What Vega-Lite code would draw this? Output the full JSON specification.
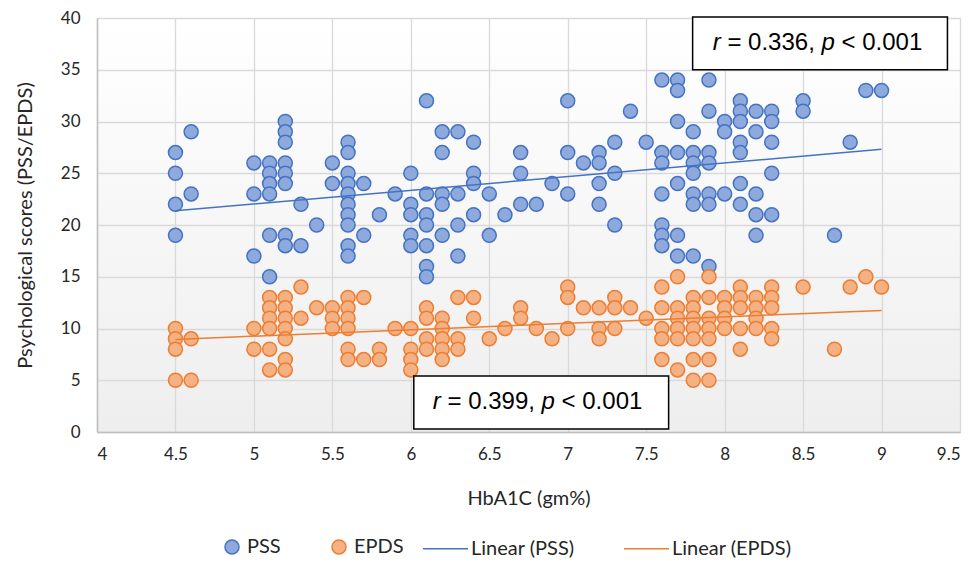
{
  "$schema": "https://vega.github.io/schema/vega-lite/v6.json",
  "width": 863,
  "height": 414,
  "autosize": "none",
  "padding": {"left": 97, "top": 18, "right": 15, "bottom": 133},
  "background": "white",
  "config": {
    "view": {"stroke": null, "fill": {"gradient": "linear", "x1": 0, "y1": 0, "x2": 0, "y2": 1, "stops": [{"offset": 0, "color": "#ffffff"}, {"offset": 1, "color": "#eeeeee"}]}},
    "axis": {"labelFont": "Lato", "labelFontSize": 17, "labelColor": "#262626", "titleFont": "Lato", "titleFontSize": 20, "titleFontWeight": "normal", "titleColor": "#262626", "gridColor": "#d9d9d9", "gridWidth": 1.3, "domainColor": "#bfbfbf", "domainWidth": 1.5, "ticks": false},
    "legend": {"labelFont": "Lato", "labelFontSize": 20, "labelColor": "#262626", "title": null}
  },
  "datasets": {
    "scores": [
      {"x":4.5,"y":27,"s":"PSS"},{"x":4.5,"y":25,"s":"PSS"},{"x":4.5,"y":22,"s":"PSS"},{"x":4.5,"y":19,"s":"PSS"},
      {"x":4.6,"y":29,"s":"PSS"},{"x":4.6,"y":23,"s":"PSS"},
      {"x":5.0,"y":26,"s":"PSS"},{"x":5.0,"y":23,"s":"PSS"},{"x":5.0,"y":17,"s":"PSS"},
      {"x":5.1,"y":26,"s":"PSS"},{"x":5.1,"y":25,"s":"PSS"},{"x":5.1,"y":24,"s":"PSS"},{"x":5.1,"y":23,"s":"PSS"},{"x":5.1,"y":19,"s":"PSS"},{"x":5.1,"y":15,"s":"PSS"},
      {"x":5.2,"y":30,"s":"PSS"},{"x":5.2,"y":29,"s":"PSS"},{"x":5.2,"y":28,"s":"PSS"},{"x":5.2,"y":26,"s":"PSS"},{"x":5.2,"y":25,"s":"PSS"},{"x":5.2,"y":24,"s":"PSS"},{"x":5.2,"y":19,"s":"PSS"},{"x":5.2,"y":18,"s":"PSS"},
      {"x":5.3,"y":22,"s":"PSS"},{"x":5.3,"y":18,"s":"PSS"},
      {"x":5.4,"y":20,"s":"PSS"},
      {"x":5.5,"y":26,"s":"PSS"},{"x":5.5,"y":24,"s":"PSS"},
      {"x":5.6,"y":28,"s":"PSS"},{"x":5.6,"y":27,"s":"PSS"},{"x":5.6,"y":25,"s":"PSS"},{"x":5.6,"y":24,"s":"PSS"},{"x":5.6,"y":23,"s":"PSS"},{"x":5.6,"y":22,"s":"PSS"},{"x":5.6,"y":21,"s":"PSS"},{"x":5.6,"y":20,"s":"PSS"},{"x":5.6,"y":18,"s":"PSS"},{"x":5.6,"y":17,"s":"PSS"},
      {"x":5.7,"y":24,"s":"PSS"},{"x":5.7,"y":19,"s":"PSS"},
      {"x":5.8,"y":21,"s":"PSS"},
      {"x":5.9,"y":23,"s":"PSS"},
      {"x":6.0,"y":25,"s":"PSS"},{"x":6.0,"y":22,"s":"PSS"},{"x":6.0,"y":21,"s":"PSS"},{"x":6.0,"y":19,"s":"PSS"},{"x":6.0,"y":18,"s":"PSS"},
      {"x":6.1,"y":32,"s":"PSS"},{"x":6.1,"y":23,"s":"PSS"},{"x":6.1,"y":21,"s":"PSS"},{"x":6.1,"y":20,"s":"PSS"},{"x":6.1,"y":18,"s":"PSS"},{"x":6.1,"y":16,"s":"PSS"},{"x":6.1,"y":15,"s":"PSS"},
      {"x":6.2,"y":29,"s":"PSS"},{"x":6.2,"y":27,"s":"PSS"},{"x":6.2,"y":23,"s":"PSS"},{"x":6.2,"y":22,"s":"PSS"},{"x":6.2,"y":19,"s":"PSS"},
      {"x":6.3,"y":29,"s":"PSS"},{"x":6.3,"y":23,"s":"PSS"},{"x":6.3,"y":20,"s":"PSS"},{"x":6.3,"y":17,"s":"PSS"},
      {"x":6.4,"y":28,"s":"PSS"},{"x":6.4,"y":25,"s":"PSS"},{"x":6.4,"y":24,"s":"PSS"},{"x":6.4,"y":21,"s":"PSS"},
      {"x":6.5,"y":23,"s":"PSS"},{"x":6.5,"y":19,"s":"PSS"},
      {"x":6.6,"y":21,"s":"PSS"},
      {"x":6.7,"y":27,"s":"PSS"},{"x":6.7,"y":25,"s":"PSS"},{"x":6.7,"y":22,"s":"PSS"},
      {"x":6.8,"y":22,"s":"PSS"},
      {"x":6.9,"y":24,"s":"PSS"},
      {"x":7.0,"y":32,"s":"PSS"},{"x":7.0,"y":27,"s":"PSS"},{"x":7.0,"y":23,"s":"PSS"},
      {"x":7.1,"y":26,"s":"PSS"},
      {"x":7.2,"y":27,"s":"PSS"},{"x":7.2,"y":26,"s":"PSS"},{"x":7.2,"y":24,"s":"PSS"},{"x":7.2,"y":22,"s":"PSS"},
      {"x":7.3,"y":28,"s":"PSS"},{"x":7.3,"y":25,"s":"PSS"},{"x":7.3,"y":20,"s":"PSS"},
      {"x":7.4,"y":31,"s":"PSS"},
      {"x":7.5,"y":28,"s":"PSS"},
      {"x":7.6,"y":34,"s":"PSS"},{"x":7.6,"y":27,"s":"PSS"},{"x":7.6,"y":26,"s":"PSS"},{"x":7.6,"y":23,"s":"PSS"},{"x":7.6,"y":20,"s":"PSS"},{"x":7.6,"y":19,"s":"PSS"},{"x":7.6,"y":18,"s":"PSS"},
      {"x":7.7,"y":34,"s":"PSS"},{"x":7.7,"y":33,"s":"PSS"},{"x":7.7,"y":30,"s":"PSS"},{"x":7.7,"y":27,"s":"PSS"},{"x":7.7,"y":24,"s":"PSS"},{"x":7.7,"y":19,"s":"PSS"},{"x":7.7,"y":17,"s":"PSS"},
      {"x":7.8,"y":29,"s":"PSS"},{"x":7.8,"y":27,"s":"PSS"},{"x":7.8,"y":26,"s":"PSS"},{"x":7.8,"y":25,"s":"PSS"},{"x":7.8,"y":23,"s":"PSS"},{"x":7.8,"y":22,"s":"PSS"},{"x":7.8,"y":17,"s":"PSS"},
      {"x":7.9,"y":34,"s":"PSS"},{"x":7.9,"y":31,"s":"PSS"},{"x":7.9,"y":27,"s":"PSS"},{"x":7.9,"y":26,"s":"PSS"},{"x":7.9,"y":23,"s":"PSS"},{"x":7.9,"y":22,"s":"PSS"},{"x":7.9,"y":16,"s":"PSS"},
      {"x":8.0,"y":30,"s":"PSS"},{"x":8.0,"y":29,"s":"PSS"},{"x":8.0,"y":23,"s":"PSS"},
      {"x":8.1,"y":32,"s":"PSS"},{"x":8.1,"y":31,"s":"PSS"},{"x":8.1,"y":30,"s":"PSS"},{"x":8.1,"y":28,"s":"PSS"},{"x":8.1,"y":27,"s":"PSS"},{"x":8.1,"y":24,"s":"PSS"},{"x":8.1,"y":22,"s":"PSS"},
      {"x":8.2,"y":31,"s":"PSS"},{"x":8.2,"y":29,"s":"PSS"},{"x":8.2,"y":23,"s":"PSS"},{"x":8.2,"y":21,"s":"PSS"},{"x":8.2,"y":19,"s":"PSS"},
      {"x":8.3,"y":31,"s":"PSS"},{"x":8.3,"y":30,"s":"PSS"},{"x":8.3,"y":28,"s":"PSS"},{"x":8.3,"y":25,"s":"PSS"},{"x":8.3,"y":21,"s":"PSS"},
      {"x":8.5,"y":32,"s":"PSS"},{"x":8.5,"y":31,"s":"PSS"},
      {"x":8.7,"y":19,"s":"PSS"},
      {"x":8.8,"y":28,"s":"PSS"},
      {"x":8.9,"y":33,"s":"PSS"},
      {"x":9.0,"y":33,"s":"PSS"},
      {"x":4.5,"y":10,"s":"EPDS"},{"x":4.5,"y":9,"s":"EPDS"},{"x":4.5,"y":8,"s":"EPDS"},{"x":4.5,"y":5,"s":"EPDS"},
      {"x":4.6,"y":9,"s":"EPDS"},{"x":4.6,"y":5,"s":"EPDS"},
      {"x":5.0,"y":10,"s":"EPDS"},{"x":5.0,"y":8,"s":"EPDS"},
      {"x":5.1,"y":13,"s":"EPDS"},{"x":5.1,"y":12,"s":"EPDS"},{"x":5.1,"y":11,"s":"EPDS"},{"x":5.1,"y":10,"s":"EPDS"},{"x":5.1,"y":8,"s":"EPDS"},{"x":5.1,"y":6,"s":"EPDS"},
      {"x":5.2,"y":13,"s":"EPDS"},{"x":5.2,"y":12,"s":"EPDS"},{"x":5.2,"y":11,"s":"EPDS"},{"x":5.2,"y":10,"s":"EPDS"},{"x":5.2,"y":9,"s":"EPDS"},{"x":5.2,"y":7,"s":"EPDS"},{"x":5.2,"y":6,"s":"EPDS"},
      {"x":5.3,"y":14,"s":"EPDS"},{"x":5.3,"y":11,"s":"EPDS"},
      {"x":5.4,"y":12,"s":"EPDS"},
      {"x":5.5,"y":12,"s":"EPDS"},{"x":5.5,"y":11,"s":"EPDS"},{"x":5.5,"y":10,"s":"EPDS"},
      {"x":5.6,"y":13,"s":"EPDS"},{"x":5.6,"y":12,"s":"EPDS"},{"x":5.6,"y":11,"s":"EPDS"},{"x":5.6,"y":10,"s":"EPDS"},{"x":5.6,"y":8,"s":"EPDS"},{"x":5.6,"y":7,"s":"EPDS"},
      {"x":5.7,"y":13,"s":"EPDS"},{"x":5.7,"y":7,"s":"EPDS"},
      {"x":5.8,"y":8,"s":"EPDS"},{"x":5.8,"y":7,"s":"EPDS"},
      {"x":5.9,"y":10,"s":"EPDS"},
      {"x":6.0,"y":10,"s":"EPDS"},{"x":6.0,"y":8,"s":"EPDS"},{"x":6.0,"y":7,"s":"EPDS"},{"x":6.0,"y":6,"s":"EPDS"},
      {"x":6.1,"y":12,"s":"EPDS"},{"x":6.1,"y":11,"s":"EPDS"},{"x":6.1,"y":9,"s":"EPDS"},{"x":6.1,"y":8,"s":"EPDS"},
      {"x":6.2,"y":11,"s":"EPDS"},{"x":6.2,"y":10,"s":"EPDS"},{"x":6.2,"y":9,"s":"EPDS"},{"x":6.2,"y":8,"s":"EPDS"},{"x":6.2,"y":7,"s":"EPDS"},
      {"x":6.3,"y":13,"s":"EPDS"},{"x":6.3,"y":9,"s":"EPDS"},{"x":6.3,"y":8,"s":"EPDS"},
      {"x":6.4,"y":13,"s":"EPDS"},{"x":6.4,"y":11,"s":"EPDS"},
      {"x":6.5,"y":9,"s":"EPDS"},
      {"x":6.6,"y":10,"s":"EPDS"},
      {"x":6.7,"y":12,"s":"EPDS"},{"x":6.7,"y":11,"s":"EPDS"},
      {"x":6.8,"y":10,"s":"EPDS"},
      {"x":6.9,"y":9,"s":"EPDS"},
      {"x":7.0,"y":14,"s":"EPDS"},{"x":7.0,"y":13,"s":"EPDS"},{"x":7.0,"y":10,"s":"EPDS"},
      {"x":7.1,"y":12,"s":"EPDS"},
      {"x":7.2,"y":12,"s":"EPDS"},{"x":7.2,"y":10,"s":"EPDS"},{"x":7.2,"y":9,"s":"EPDS"},
      {"x":7.3,"y":13,"s":"EPDS"},{"x":7.3,"y":12,"s":"EPDS"},{"x":7.3,"y":10,"s":"EPDS"},
      {"x":7.4,"y":12,"s":"EPDS"},
      {"x":7.5,"y":11,"s":"EPDS"},
      {"x":7.6,"y":14,"s":"EPDS"},{"x":7.6,"y":12,"s":"EPDS"},{"x":7.6,"y":10,"s":"EPDS"},{"x":7.6,"y":9,"s":"EPDS"},{"x":7.6,"y":7,"s":"EPDS"},
      {"x":7.7,"y":15,"s":"EPDS"},{"x":7.7,"y":12,"s":"EPDS"},{"x":7.7,"y":11,"s":"EPDS"},{"x":7.7,"y":10,"s":"EPDS"},{"x":7.7,"y":9,"s":"EPDS"},{"x":7.7,"y":6,"s":"EPDS"},
      {"x":7.8,"y":13,"s":"EPDS"},{"x":7.8,"y":12,"s":"EPDS"},{"x":7.8,"y":11,"s":"EPDS"},{"x":7.8,"y":10,"s":"EPDS"},{"x":7.8,"y":9,"s":"EPDS"},{"x":7.8,"y":7,"s":"EPDS"},{"x":7.8,"y":5,"s":"EPDS"},
      {"x":7.9,"y":15,"s":"EPDS"},{"x":7.9,"y":13,"s":"EPDS"},{"x":7.9,"y":11,"s":"EPDS"},{"x":7.9,"y":10,"s":"EPDS"},{"x":7.9,"y":9,"s":"EPDS"},{"x":7.9,"y":7,"s":"EPDS"},{"x":7.9,"y":5,"s":"EPDS"},
      {"x":8.0,"y":13,"s":"EPDS"},{"x":8.0,"y":12,"s":"EPDS"},{"x":8.0,"y":11,"s":"EPDS"},{"x":8.0,"y":10,"s":"EPDS"},
      {"x":8.1,"y":14,"s":"EPDS"},{"x":8.1,"y":13,"s":"EPDS"},{"x":8.1,"y":12,"s":"EPDS"},{"x":8.1,"y":10,"s":"EPDS"},{"x":8.1,"y":8,"s":"EPDS"},
      {"x":8.2,"y":13,"s":"EPDS"},{"x":8.2,"y":12,"s":"EPDS"},{"x":8.2,"y":11,"s":"EPDS"},{"x":8.2,"y":10,"s":"EPDS"},
      {"x":8.3,"y":14,"s":"EPDS"},{"x":8.3,"y":13,"s":"EPDS"},{"x":8.3,"y":12,"s":"EPDS"},{"x":8.3,"y":10,"s":"EPDS"},{"x":8.3,"y":9,"s":"EPDS"},
      {"x":8.5,"y":14,"s":"EPDS"},
      {"x":8.7,"y":8,"s":"EPDS"},
      {"x":8.8,"y":14,"s":"EPDS"},
      {"x":8.9,"y":15,"s":"EPDS"},
      {"x":9.0,"y":14,"s":"EPDS"}
    ]
  },
  "layer": [
    {
      "data": {"name": "scores"},
      "mark": {"type": "point", "filled": true, "opacity": 1, "strokeWidth": 1.5, "size": 196, "shape": "circle"},
      "encoding": {
        "x": {"field": "x", "type": "quantitative", "scale": {"domain": [4, 9.5], "nice": false, "zero": false},
              "axis": {"values": [4,4.5,5,5.5,6,6.5,7,7.5,8,8.5,9,9.5], "format": ".1~f", "labelPadding": 14, "titlePadding": 26, "title": "HbA1C (gm%)"}},
        "y": {"field": "y", "type": "quantitative", "scale": {"domain": [0, 40], "nice": false},
              "axis": {"values": [0,5,10,15,20,25,30,35,40], "format": "d", "labelPadding": 17, "titlePadding": 25, "title": "Psychological scores (PSS/EPDS)"}},
        "fill": {"field": "s", "type": "nominal", "scale": {"domain": ["PSS", "EPDS"], "range": ["#8EA9DB", "#F4B183"]},
                 "legend": {"orient": "none", "legendX": 125, "legendY": 519, "direction": "horizontal", "columnPadding": 48, "labelOffset": 5, "symbolSize": 196, "symbolStrokeWidth": 1.5, "symbolType": "circle"}},
        "stroke": {"field": "s", "type": "nominal", "scale": {"domain": ["PSS", "EPDS"], "range": ["#4472C4", "#ED7D31"]}}
      }
    },
    {
      "data": {"name": "scores"},
      "transform": [
        {"regression": "y", "on": "x", "groupby": ["s"], "method": "linear"},
        {"calculate": "'Linear (' + datum.s + ')'", "as": "trend"}
      ],
      "mark": {"type": "line", "strokeWidth": 1.5},
      "encoding": {
        "x": {"field": "x", "type": "quantitative"},
        "y": {"field": "y", "type": "quantitative"},
        "color": {"field": "trend", "type": "nominal", "scale": {"domain": ["Linear (PSS)", "Linear (EPDS)"], "range": ["#4472C4", "#ED7D31"]},
                  "legend": {"orient": "none", "legendX": 325, "legendY": 507, "direction": "horizontal", "columnPadding": 46, "labelOffset": 2, "symbolType": "stroke", "symbolSize": 2025, "symbolStrokeWidth": 1.5}}
      }
    },
    {
      "data": {"values": [{}]},
      "mark": {"type": "rect", "fill": "white", "stroke": "black", "strokeWidth": 1.5},
      "encoding": {"x": {"datum": 7.796}, "x2": {"datum": 9.42}, "y": {"datum": 40.1}, "y2": {"datum": 35.0}}
    },
    {
      "data": {"values": [{}]},
      "mark": {"type": "rect", "fill": "white", "stroke": "black", "strokeWidth": 1.5},
      "encoding": {"x": {"datum": 6.019}, "x2": {"datum": 7.643}, "y": {"datum": 5.41}, "y2": {"datum": 0.29}}
    },
    {"data": {"values": [{}]}, "mark": {"type": "text", "text": "r", "font": "Liberation Sans", "fontSize": 24, "fontStyle": "italic", "align": "left", "baseline": "alphabetic", "color": "black", "dx": 0}, "encoding": {"x": {"datum": 7.924}, "y": {"datum": 36.9}}},
    {"data": {"values": [{}]}, "mark": {"type": "text", "text": "= 0.336,", "font": "Liberation Sans", "fontSize": 24, "align": "left", "baseline": "alphabetic", "color": "black", "dx": 14.7}, "encoding": {"x": {"datum": 7.924}, "y": {"datum": 36.9}}},
    {"data": {"values": [{}]}, "mark": {"type": "text", "text": "p", "font": "Liberation Sans", "fontSize": 24, "fontStyle": "italic", "align": "left", "baseline": "alphabetic", "color": "black", "dx": 108.8}, "encoding": {"x": {"datum": 7.924}, "y": {"datum": 36.9}}},
    {"data": {"values": [{}]}, "mark": {"type": "text", "text": "< 0.001", "font": "Liberation Sans", "fontSize": 24, "align": "left", "baseline": "alphabetic", "color": "black", "dx": 128.8}, "encoding": {"x": {"datum": 7.924}, "y": {"datum": 36.9}}},
    {"data": {"values": [{}]}, "mark": {"type": "text", "text": "r", "font": "Liberation Sans", "fontSize": 24, "fontStyle": "italic", "align": "left", "baseline": "alphabetic", "color": "black", "dx": 0}, "encoding": {"x": {"datum": 6.14}, "y": {"datum": 2.22}}},
    {"data": {"values": [{}]}, "mark": {"type": "text", "text": "= 0.399,", "font": "Liberation Sans", "fontSize": 24, "align": "left", "baseline": "alphabetic", "color": "black", "dx": 14.7}, "encoding": {"x": {"datum": 6.14}, "y": {"datum": 2.22}}},
    {"data": {"values": [{}]}, "mark": {"type": "text", "text": "p", "font": "Liberation Sans", "fontSize": 24, "fontStyle": "italic", "align": "left", "baseline": "alphabetic", "color": "black", "dx": 108.8}, "encoding": {"x": {"datum": 6.14}, "y": {"datum": 2.22}}},
    {"data": {"values": [{}]}, "mark": {"type": "text", "text": "< 0.001", "font": "Liberation Sans", "fontSize": 24, "align": "left", "baseline": "alphabetic", "color": "black", "dx": 128.8}, "encoding": {"x": {"datum": 6.14}, "y": {"datum": 2.22}}}
  ]
}
